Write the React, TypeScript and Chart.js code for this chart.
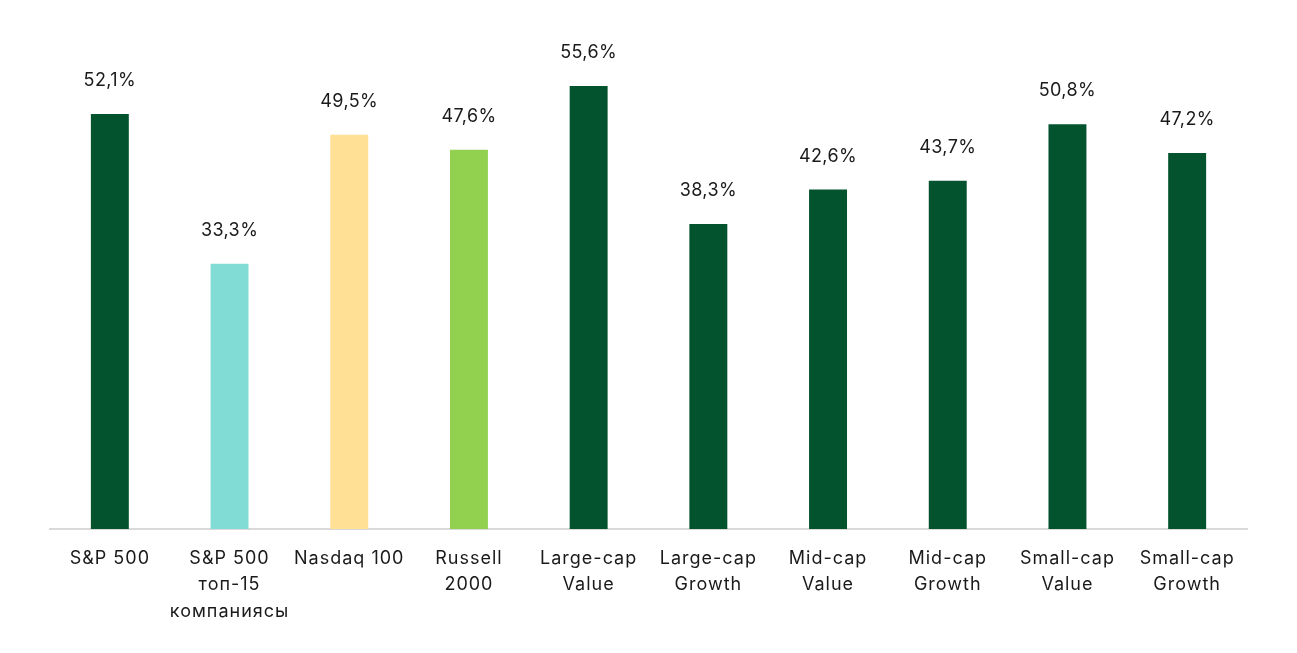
import React, { useEffect, useRef } from "react";
import { Chart, registerables } from "chart.js";

Chart.register(...registerables);

const categories: string[][] = [
  ["S&P 500"],
  ["S&P 500", "топ-15", "компаниясы"],
  ["Nasdaq 100"],
  ["Russell", "2000"],
  ["Large-cap", "Value"],
  ["Large-cap", "Growth"],
  ["Mid-cap", "Value"],
  ["Mid-cap", "Growth"],
  ["Small-cap", "Value"],
  ["Small-cap", "Growth"],
];
const values: number[] = [52.1, 33.3, 49.5, 47.6, 55.6, 38.3, 42.6, 43.7, 50.8, 47.2];
const barColors: string[] = [
  "#03532F",
  "#80DCD4",
  "#FFE094",
  "#92D050",
  "#03532F",
  "#03532F",
  "#03532F",
  "#03532F",
  "#03532F",
  "#03532F",
];

const FONT = "Inter, 'Noto Sans', sans-serif";

const spacing = {
  id: "spacing",
  beforeDraw(chart: any) {
    chart.ctx.letterSpacing = "1px";
  },
  afterDraw(chart: any) {
    chart.ctx.letterSpacing = "0px";
  },
};

const valueLabels = {
  id: "valueLabels",
  afterDatasetsDraw(chart: any) {
    const ctx = chart.ctx;
    const meta = chart.getDatasetMeta(0);
    ctx.save();
    ctx.letterSpacing = "0.4px";
    ctx.font = `400 18px ${FONT}`;
    ctx.fillStyle = "#1a1a1a";
    ctx.textAlign = "center";
    ctx.textBaseline = "alphabetic";
    meta.data.forEach((bar: any, i: number) => {
      const txt = values[i].toFixed(1).replace(".", ",") + "%";
      ctx.fillText(txt, bar.x, bar.y - 28);
    });
    ctx.restore();
  },
};

export default function App() {
  const ref = useRef<HTMLCanvasElement>(null);
  useEffect(() => {
    if (!ref.current) return;
    const chart = new Chart(ref.current, {
      type: "bar",
      data: {
        labels: categories,
        datasets: [
          {
            data: values,
            backgroundColor: barColors,
            barPercentage: 0.317,
            categoryPercentage: 1,
          },
        ],
      },
      options: {
        animation: false,
        responsive: false,
        maintainAspectRatio: false,
        layout: { padding: { left: 50, right: 50, top: 51, bottom: 0 } },
        plugins: { legend: { display: false }, tooltip: { enabled: false } },
        scales: {
          x: {
            grid: { display: false, drawTicks: false },
            border: { display: true, color: "#D9D9D9", width: 2 },
            ticks: {
              color: "#1a1a1a",
              font: { family: FONT, size: 18, lineHeight: 1.47 },
              padding: 16,
              maxRotation: 0,
              autoSkip: false,
            },
            afterFit(scale: any) {
              scale.height = 124;
            },
          },
          y: {
            display: false,
            min: 0,
            max: 60,
          },
        },
      },
      plugins: [spacing, valueLabels],
    });
    return () => chart.destroy();
  }, []);
  return (
    <div style={{ position: "fixed", left: 0, top: 0, width: 1297, height: 653, background: "#fff" }}>
      <canvas ref={ref} width={1297} height={653} style={{ width: 1297, height: 653 }} />
    </div>
  );
}
